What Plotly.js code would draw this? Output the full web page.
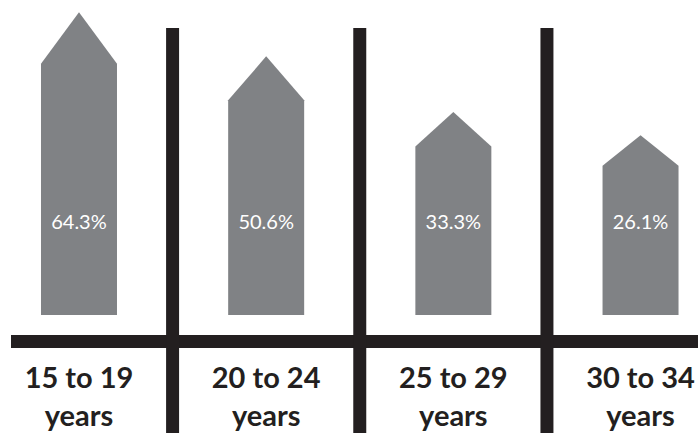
<!DOCTYPE html>
<html>
<head>
<meta charset="utf-8">
<script src="https://cdn.plot.ly/plotly-3.0.1.min.js"></script>
<style>
  html, body { margin: 0; padding: 0; background: #ffffff; }
  #chart { width: 698px; height: 435px; }
</style>
</head>
<body>
<div id="chart"></div>
<script>
// ---- data ----
const categories = ["15 to 19 years", "20 to 24 years", "25 to 29 years", "30 to 34 years"];
const shares = [64.3, 50.6, 33.3, 26.1];
const valueLabels = ["64.3%", "50.6%", "33.3%", "26.1%"];

// ---- style / layout constants ----
const GRAY = "#808285";
const BLACK = "#231f20";
const FLOOR = -29.7;        // value at which the arrow bodies start (infographic baseline)
const HALF_W = 0.203;       // arrow half width in category units
const HEAD_FRAC = 0.17;     // arrowhead height as fraction of arrow height
const LABEL_Y = -1.4;       // vertical position of value labels
const CAT_Y = -56.0;        // vertical position of category labels
const FONT = "Lato, 'Open Sans', sans-serif";

const traces = [];
shares.forEach((v, i) => {
  const head = HEAD_FRAC * (v - FLOOR);
  const sh = v - head;
  traces.push({
    type: "scatter", mode: "lines", fill: "toself",
    x: [i - HALF_W, i - HALF_W, i, i + HALF_W, i + HALF_W, i - HALF_W],
    y: [FLOOR, sh, v, sh, FLOOR, FLOOR],
    fillcolor: GRAY, line: { width: 0, color: GRAY },
    hoverinfo: "skip", showlegend: false
  });
});

traces.push({
  type: "scatter", mode: "text",
  x: shares.map((v, i) => i),
  y: shares.map(() => LABEL_Y),
  text: valueLabels,
  textposition: "middle center",
  textfont: { family: FONT, size: 20, color: "#ffffff" },
  hoverinfo: "skip", showlegend: false
});

traces.push({
  type: "scatter", mode: "text",
  x: categories.map((c, i) => i),
  y: categories.map(() => CAT_Y),
  text: categories.map(c => c.replace(" years", "<br>years")),
  textposition: "middle center",
  textfont: { family: FONT, size: 29, color: BLACK, weight: 700 },
  hoverinfo: "skip", showlegend: false
});

const shapes = [];
// horizontal base bar
shapes.push({
  type: "rect", xref: "paper", yref: "paper",
  x0: 11 / 698, x1: 1, y0: 1 - 348 / 435, y1: 1 - 335 / 435,
  fillcolor: BLACK, line: { width: 0 }
});
// vertical dividers between categories
for (let i = 0; i < categories.length - 1; i++) {
  shapes.push({
    type: "rect", xref: "x", yref: "paper",
    x0: i + 0.5 - 0.0347, x1: i + 0.5 + 0.0347,
    y0: 1 - 433 / 435, y1: 1 - 28 / 435,
    fillcolor: BLACK, line: { width: 0 }
  });
}

const layout = {
  width: 698, height: 435,
  margin: { l: 0, r: 0, t: 0, b: 0 },
  paper_bgcolor: "#ffffff", plot_bgcolor: "#ffffff",
  xaxis: { range: [-0.422, 3.307], visible: false, fixedrange: true },
  yaxis: { range: [-66.97, 68.1], visible: false, fixedrange: true },
  shapes: shapes,
  showlegend: false
};

Plotly.newPlot("chart", traces, layout, { displayModeBar: false, staticPlot: true });
</script>
</body>
</html>
